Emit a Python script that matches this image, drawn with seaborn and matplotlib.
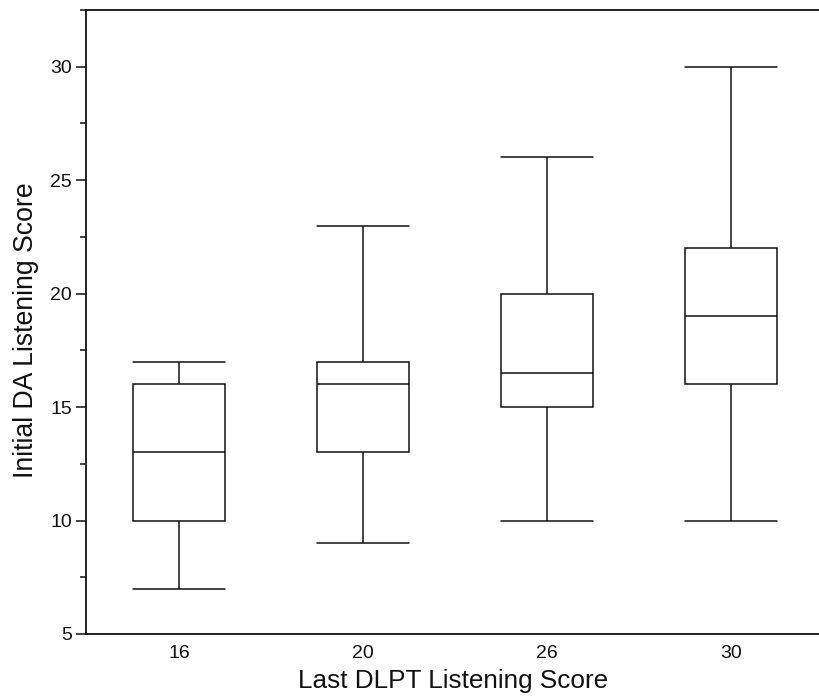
import pandas as pd
import matplotlib
matplotlib.use("Agg")
import matplotlib.pyplot as plt
from matplotlib.ticker import MultipleLocator
import seaborn as sns

# five-number summaries (min, q1, median, q3, max)
categories = ["16", "20", "26", "30"]
score_16 = [7, 10, 13, 16, 17]
score_20 = [9, 13, 16, 17, 23]
score_26 = [10, 15, 16.5, 20, 26]
score_30 = [10, 16, 19, 22, 30]

# long-form table for seaborn
df = pd.DataFrame({
    "last": sum([[c] * 5 for c in categories], []),
    "initial": score_16 + score_20 + score_26 + score_30,
})

sns.set_style("ticks")
plt.rcParams["font.family"] = ["Liberation Sans", "DejaVu Sans"]

fig = plt.figure(figsize=(8.2, 6.98), dpi=100)
ax = fig.add_axes([0.1049, 0.0917, 0.8951, 0.894])

# whis=(0, 100) puts whiskers at min and max of each group
sns.boxplot(data=df, x="last", y="initial", order=categories, ax=ax,
            whis=(0, 100), width=0.5, color="white", linecolor="#111111",
            linewidth=1.1, capwidths=0.5)

ax.set_xlim(-0.505, 3.484)
ax.set_ylim(5, 32.5)
ax.yaxis.set_major_locator(MultipleLocator(5))
ax.yaxis.set_minor_locator(MultipleLocator(2.5))

ax.set_xlabel("Last DLPT Listening Score", fontsize=18.8, color="#111111", labelpad=5)
ax.set_ylabel("Initial DA Listening Score", fontsize=19.2, color="#111111", labelpad=8)
ax.yaxis.label.set_y(0.487)

ax.tick_params(axis="y", which="major", length=7, width=1.1, labelsize=14, pad=3, colors="#111111")
ax.tick_params(axis="y", which="minor", length=4.3, width=1.1, colors="#111111")
ax.tick_params(axis="x", length=0, labelsize=14, pad=8, colors="#111111")

ax.spines["right"].set_visible(False)
for s in ["left", "top", "bottom"]:
    ax.spines[s].set_linewidth(1.3)
    ax.spines[s].set_color("#111111")

fig.savefig("out.png", dpi=100)
